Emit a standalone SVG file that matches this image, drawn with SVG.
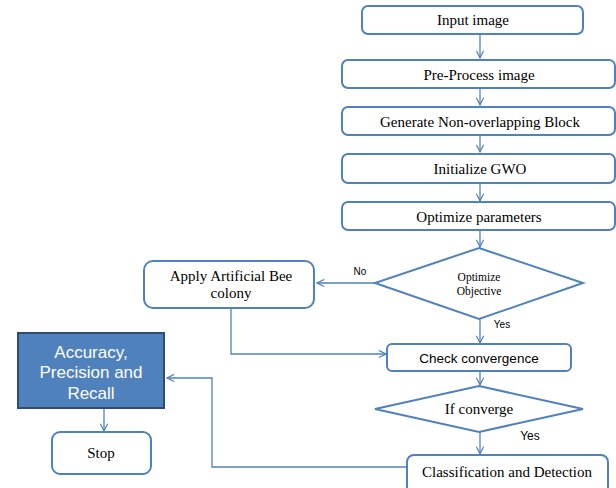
<svg xmlns="http://www.w3.org/2000/svg" width="616" height="488" viewBox="0 0 616 488">
<defs>
<style>
.box{fill:#fff;stroke:#4f81bd;stroke-width:2}
.t{font-family:"Liberation Serif","Times New Roman",serif;font-size:15px;fill:#000;text-anchor:middle}
.t11{font-family:"Liberation Serif","Times New Roman",serif;font-size:11.5px;fill:#000;text-anchor:middle}
.s{font-family:"Liberation Sans",Arial,sans-serif;fill:#000;text-anchor:middle}
.c{fill:none;stroke:#4f81bd;stroke-width:1.3}
.w{font-family:"Liberation Sans",Arial,sans-serif;font-size:17px;fill:#fff;text-anchor:middle}
</style>
<marker id="a" viewBox="0 0 10 10" refX="9" refY="5" markerWidth="9" markerHeight="9" orient="auto" markerUnits="userSpaceOnUse">
<path d="M1,1 L9,5 L1,9" fill="none" stroke="#4f81bd" stroke-width="1.3"/>
</marker>
</defs>
<rect width="616" height="488" fill="#fff"/>
<g id="connectors">
<line class="c" x1="480" y1="35" x2="480" y2="58" marker-end="url(#a)"/>
<line class="c" x1="480" y1="89" x2="480" y2="105" marker-end="url(#a)"/>
<line class="c" x1="480" y1="136" x2="480" y2="152" marker-end="url(#a)"/>
<line class="c" x1="480" y1="184" x2="480" y2="201" marker-end="url(#a)"/>
<line class="c" x1="480" y1="231" x2="480" y2="247" marker-end="url(#a)"/>
<line class="c" x1="375" y1="283" x2="317" y2="283" marker-end="url(#a)"/>
<line class="c" x1="480" y1="319" x2="480" y2="343" marker-end="url(#a)"/>
<polyline class="c" points="231,309 231,354 386,354" marker-end="url(#a)"/>
<line class="c" x1="480" y1="372" x2="480" y2="385" marker-end="url(#a)"/>
<line class="c" x1="480" y1="432" x2="480" y2="454" marker-end="url(#a)"/>
<polyline class="c" points="407,467 212,467 212,378 167,378" marker-end="url(#a)"/>
<line class="c" x1="104" y1="409" x2="104" y2="431" marker-end="url(#a)"/>
<text class="s" x="360" y="275" font-size="10">No</text>
<text class="s" x="502" y="328" font-size="10">Yes</text>
<text class="s" x="530" y="440" font-size="12">Yes</text>
</g>
<g id="input"><rect class="box" x="362" y="6" width="221" height="28" rx="6"/><text class="t" x="473" y="25">Input image</text></g>
<g id="preprocess"><rect class="box" x="342" y="60" width="273" height="28" rx="6"/><text class="t" x="479" y="80">Pre-Process image</text></g>
<g id="generate"><rect class="box" x="342" y="107" width="273" height="28" rx="6"/><text class="t" x="480" y="127">Generate Non-overlapping Block</text></g>
<g id="initialize"><rect class="box" x="342" y="154" width="273" height="29" rx="6"/><text class="t" x="480" y="174">Initialize GWO</text></g>
<g id="optparams"><rect class="box" x="342" y="202" width="273" height="28" rx="6"/><text class="t" x="479" y="222">Optimize parameters</text></g>
<g id="optobjective"><polygon class="box" points="479,248 583,283 479,319 375,283"/><text class="t11" x="479" y="281">Optimize</text><text class="t11" x="479" y="295">Objective</text></g>
<g id="abc"><rect class="box" x="144" y="261" width="170" height="47" rx="9"/><text class="t" x="231" y="281">Apply Artificial Bee</text><text class="t" x="231" y="298">colony</text></g>
<g id="checkconv"><rect class="box" x="387" y="344" width="184" height="27" rx="5"/><text class="s" x="479" y="363" font-size="13.5">Check convergence</text></g>
<g id="ifconv"><polygon class="box" points="479,386 583,409 479,432 375,409"/><text class="t" x="479" y="414">If converge</text></g>
<g id="classification"><rect class="box" x="407" y="455" width="201" height="40" rx="7"/><text class="t" x="507" y="477">Classification and Detection</text></g>
<g id="accuracy"><rect x="18" y="333" width="146" height="75" fill="#4f81bd" stroke="#2c4d75" stroke-width="2"/><text class="w" x="91" y="358">Accuracy,</text><text class="w" x="91" y="378">Precision and</text><text class="w" x="91" y="399">Recall</text></g>
<g id="stop"><rect class="box" x="52" y="432" width="99" height="42" rx="8"/><text class="t" x="101" y="458">Stop</text></g>
</svg>
